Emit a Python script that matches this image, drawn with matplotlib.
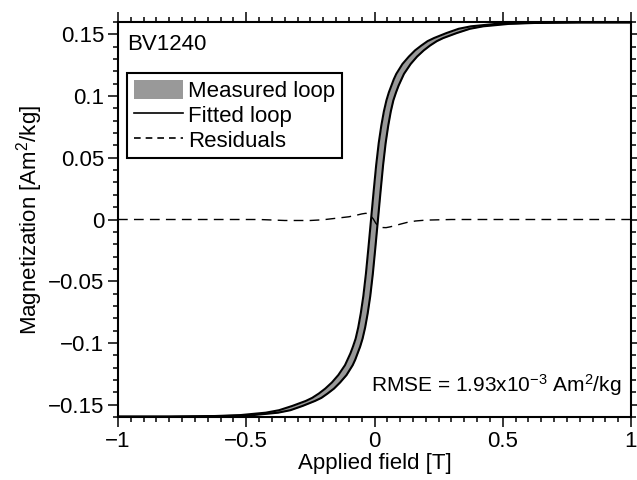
import matplotlib
matplotlib.use('Agg')
import matplotlib.pyplot as plt
from matplotlib.ticker import MultipleLocator, FuncFormatter
from matplotlib.patches import Patch
from matplotlib.lines import Line2D

plt.rcParams['font.family'] = ['Liberation Sans', 'DejaVu Sans']
plt.rcParams['mathtext.default'] = 'regular'

# magnetization levels shared by both branches [Am2/kg]
mag = [-0.1597, -0.1597, -0.1595, -0.1592, -0.1585, -0.1575, -0.1565, -0.1545,
       -0.151, -0.147, -0.1445, -0.141, -0.137, -0.132, -0.126, -0.118, -0.1135,
       -0.1085, -0.103, -0.0965, -0.0875, -0.076, -0.062, -0.044, -0.0225, 0.0,
       0.0225, 0.044, 0.062, 0.076, 0.0875, 0.0965, 0.103, 0.1085, 0.1135, 0.118,
       0.126, 0.132, 0.137, 0.141, 0.1445, 0.147, 0.151, 0.1545, 0.1565, 0.1575,
       0.1585, 0.1592, 0.1595, 0.1597, 0.1597]

# field on the descending (upper) branch [T]
field_upper = [-1.0, -0.80, -0.70, -0.620, -0.525, -0.475, -0.424, -0.372, -0.320,
               -0.268, -0.243, -0.217, -0.192, -0.166, -0.141, -0.115, -0.105,
               -0.094, -0.084, -0.0735, -0.0635, -0.0535, -0.0435, -0.0335, -0.0235,
               -0.0135, -0.0035, 0.0065, 0.0165, 0.0265, 0.0365, 0.0465, 0.056,
               0.066, 0.075, 0.085, 0.109, 0.134, 0.158, 0.183, 0.207, 0.232, 0.280,
               0.328, 0.376, 0.425, 0.475, 0.580, 0.70, 0.80, 1.0]

# field on the ascending (lower) branch [T]
field_lower = [-1.0, -0.80, -0.70, -0.580, -0.475, -0.425, -0.376, -0.328, -0.280,
               -0.232, -0.207, -0.183, -0.158, -0.134, -0.109, -0.085, -0.075,
               -0.066, -0.056, -0.0465, -0.0365, -0.0265, -0.0165, -0.0065, 0.0035,
               0.0135, 0.0235, 0.0335, 0.0435, 0.0535, 0.0635, 0.0735, 0.084,
               0.094, 0.105, 0.115, 0.141, 0.166, 0.192, 0.217, 0.243, 0.268, 0.320,
               0.372, 0.424, 0.475, 0.525, 0.620, 0.70, 0.80, 1.0]

# residuals of the fit
res_field = [-1.0, -0.45, -0.35, -0.25, -0.2, -0.15, -0.1, -0.07, -0.05, -0.035,
             -0.025, -0.015, -0.005, 0.005, 0.015, 0.03, 0.045, 0.06, 0.08, 0.1,
             0.13, 0.16, 0.2, 0.3, 1.0]
res_mag = [0.0, 0.0, -0.0008, -0.0008, -0.0002, 0.001, 0.0022, 0.0035, 0.0045, 0.005,
           0.0048, 0.003, 0.0005, -0.003, -0.0055, -0.0065, -0.0066, -0.006, -0.005,
           -0.0038, -0.0022, -0.0012, -0.0005, 0.0, 0.0]

FS = 16

fig = plt.figure(figsize=(6.37, 4.8), dpi=100)
ax = fig.add_axes([118 / 637, 1 - 417 / 480, 513 / 637, 395 / 480])

ax.fill_betweenx(mag, field_upper, field_lower, color='#999999', lw=0)
ax.plot(field_upper, mag, color='black', lw=1.5)
ax.plot(field_lower, mag, color='black', lw=1.5)
ax.plot(res_field, res_mag, color='black', lw=1.0, linestyle=(0, (7, 4.5)))

ax.set_xlim(-1, 1)
ax.set_ylim(-0.16, 0.16)

ax.xaxis.set_major_locator(MultipleLocator(0.5))
ax.xaxis.set_minor_locator(MultipleLocator(0.05))
ax.yaxis.set_major_locator(MultipleLocator(0.05))
ax.yaxis.set_minor_locator(MultipleLocator(0.01))
fmt = FuncFormatter(lambda v, p: ('%g' % round(v, 4)).replace('-', '\u2212'))
ax.xaxis.set_major_formatter(fmt)
ax.yaxis.set_major_formatter(fmt)

ax.tick_params(which='both', direction='out', top=True, right=True,
               labelsize=FS, width=1.1)
ax.tick_params(which='major', length=7, pad=3)
ax.tick_params(which='minor', length=3.5)
for sp in ax.spines.values():
    sp.set_linewidth(1.5)

ax.set_xlabel('Applied field [T]', fontsize=FS, labelpad=1)
ax.set_ylabel('Magnetization [Am$^2$/kg]', fontsize=FS, labelpad=2)

ax.text(0.0175, 0.942, 'BV1240', transform=ax.transAxes, fontsize=FS,
        ha='left', va='center')
ax.text(0.982, 0.081, 'RMSE = 1.93x10$^{-3}$ Am$^2$/kg', transform=ax.transAxes,
        fontsize=15, ha='right', va='center')

handles = [Patch(facecolor='#999999', edgecolor='none'),
           Line2D([], [], color='black', lw=1.2),
           Line2D([], [], color='black', lw=1.2, linestyle=(0, (4, 3)))]
leg = ax.legend(handles, ['Measured loop', 'Fitted loop', 'Residuals'],
                loc='upper left', bbox_to_anchor=(0.0175, 0.871), borderaxespad=0,
                fontsize=FS, fancybox=False, framealpha=1, edgecolor='black',
                handlelength=2.2, handleheight=0.95, handletextpad=0.25,
                labelspacing=0.12, borderpad=0.3)
leg.get_frame().set_linewidth(1.5)

fig.savefig('out.png', dpi=100)
